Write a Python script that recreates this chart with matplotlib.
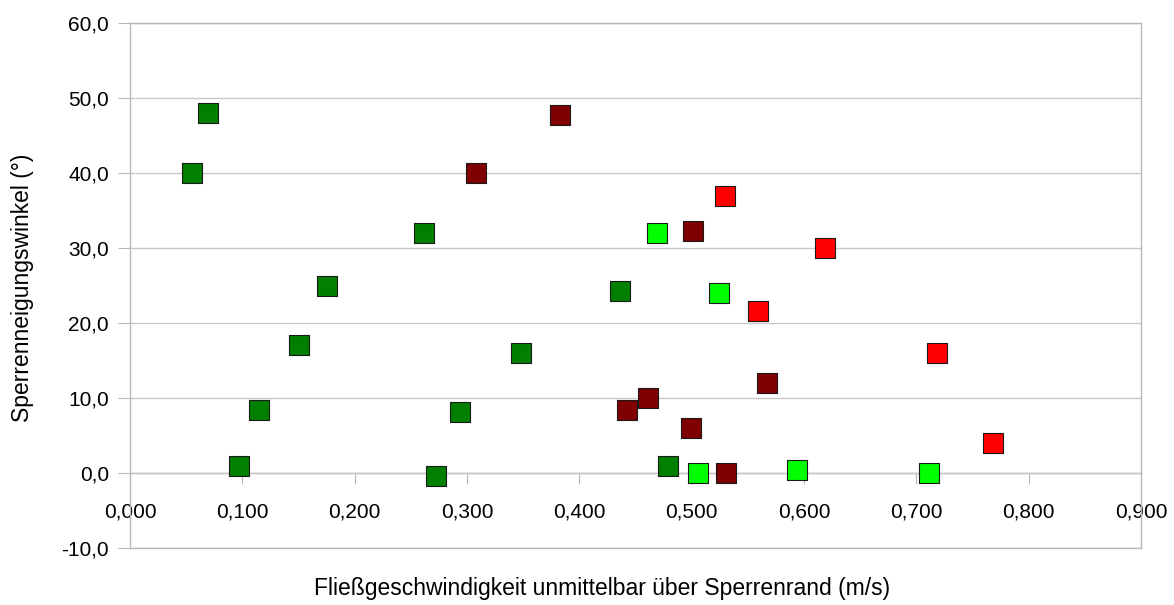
import matplotlib.pyplot as plt
import numpy as np

plt.rcParams['font.family'] = ['Liberation Sans', 'DejaVu Sans']

# Werte
dunkelgruen_x = [0.055, 0.069, 0.097, 0.115, 0.150, 0.175, 0.262, 0.272, 0.294, 0.348, 0.436, 0.479]
dunkelgruen_y = [40.0, 48.0, 1.0, 8.4, 17.1, 25.0, 32.0, -0.4, 8.2, 16.0, 24.3, 1.0]

dunkelrot_x = [0.308, 0.383, 0.442, 0.461, 0.499, 0.501, 0.531, 0.567]
dunkelrot_y = [40.0, 47.8, 8.4, 10.0, 6.0, 32.3, 0.0, 12.0]

hellgruen_x = [0.469, 0.506, 0.524, 0.594, 0.711]
hellgruen_y = [32.0, 0.0, 24.0, 0.4, 0.0]

rot_x = [0.530, 0.559, 0.619, 0.718, 0.768]
rot_y = [37.0, 21.6, 30.0, 16.0, 4.0]

x_ticks = np.arange(0, 0.91, 0.1)
y_ticks = np.arange(-10, 61, 10)

W, H = 1174, 605
fig = plt.figure(figsize=(W / 100, H / 100), dpi=100)
ax = fig.add_axes([130 / W, 1 - 548 / H, (1141 - 130) / W, (548 - 23) / H])

grau = '#b8b8b8'
kw = dict(marker='s', s=195, edgecolors='#1a1a1a', linewidths=0.8, zorder=3)
ax.scatter(dunkelgruen_x, dunkelgruen_y, color='#007f00', **kw)
ax.scatter(dunkelrot_x, dunkelrot_y, color='#7f0000', **kw)
ax.scatter(hellgruen_x, hellgruen_y, color='#00ff00', **kw)
ax.scatter(rot_x, rot_y, color='#ff0000', **kw)

ax.set_xlim(0, 0.9)
ax.set_ylim(-10, 60)
ax.set_yticks(y_ticks)
ax.set_yticklabels([f'{v:.1f}'.replace('.', ',') for v in y_ticks], fontsize=15)
ax.tick_params(axis='y', length=8.6, width=0.8, color=grau, pad=6.5)
ax.yaxis.grid(True, color='#c8c8c8', linewidth=1.0)
ax.set_axisbelow(True)
ax.set_xticks([])
for s in ax.spines.values():
    s.set_color(grau)
    s.set_linewidth(1.0)

# x-Achse schneidet bei y = 0
sec = ax.secondary_xaxis(10 / 70)
sec.set_xticks(x_ticks)
sec.set_xticklabels([f'{v:.3f}'.replace('.', ',') for v in x_ticks], fontsize=15)
sec.tick_params(axis='x', length=8, width=0.8, color=grau, pad=13)
sec.spines['bottom'].set_color(grau)
sec.spines['bottom'].set_linewidth(1.0)

fig.text(602 / W, 1 - 589 / H, 'Fließgeschwindigkeit unmittelbar über Sperrenrand (m/s)',
         fontsize=16.5, ha='center', va='center')
fig.text(23 / W, 1 - 288 / H, 'Sperrenneigungswinkel (°)', fontsize=16.5,
         rotation=90, ha='center', va='center')

fig.savefig('out.png', dpi=100)
